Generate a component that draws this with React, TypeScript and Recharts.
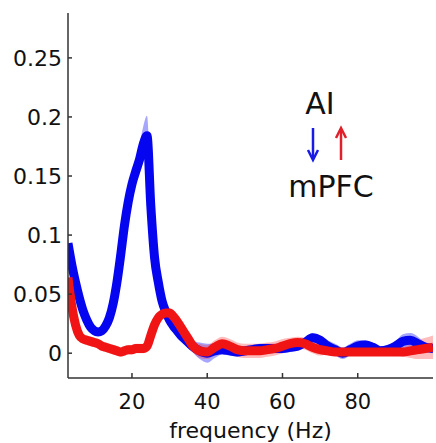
import { ComposedChart, Line, Area, XAxis, YAxis } from 'recharts';

// frequency grid (Hz)
const freqs = [3, 4, 5, 6, 7, 8, 9, 10, 11, 12, 13, 14, 15, 16, 17, 18, 19, 20, 21, 22, 23, 24, 25, 26, 27, 28, 29, 30, 31, 32, 33, 34, 35, 36, 38, 40, 42, 44, 46, 48, 50, 52, 54, 56, 58, 60, 62, 64, 66, 68, 70, 72, 74, 76, 78, 80, 82, 84, 86, 88, 90, 92, 94, 96, 98, 100];

// blue series
const blueMean = [0.093, 0.075, 0.06, 0.047, 0.036, 0.028, 0.022, 0.019, 0.018, 0.019, 0.023, 0.03, 0.042, 0.06, 0.083, 0.108, 0.128, 0.143, 0.154, 0.164, 0.177, 0.184, 0.125, 0.081, 0.06, 0.044, 0.035, 0.028, 0.023, 0.019, 0.015, 0.012, 0.009, 0.006, 0.002, 0.0, 0.002, 0.003, 0.002, 0.001, 0.002, 0.003, 0.004, 0.004, 0.004, 0.004, 0.005, 0.006, 0.009, 0.013, 0.011, 0.006, 0.003, 0.0, 0.003, 0.006, 0.007, 0.005, 0.002, 0.003, 0.006, 0.01, 0.011, 0.008, 0.005, 0.004];
const blueErr = [0.004, 0.004, 0.004, 0.004, 0.004, 0.004, 0.004, 0.004, 0.003, 0.003, 0.003, 0.003, 0.005, 0.005, 0.005, 0.005, 0.005, 0.008, 0.01, 0.013, 0.015, 0.017, 0.01, 0.005, 0.005, 0.005, 0.005, 0.005, 0.005, 0.005, 0.005, 0.005, 0.005, 0.005, 0.007, 0.008, 0.006, 0.004, 0.004, 0.004, 0.004, 0.004, 0.004, 0.004, 0.004, 0.004, 0.004, 0.004, 0.004, 0.004, 0.004, 0.005, 0.005, 0.005, 0.005, 0.005, 0.004, 0.004, 0.004, 0.004, 0.004, 0.006, 0.006, 0.006, 0.004, 0.004];

// red series
const redMean = [0.064, 0.04, 0.024, 0.015, 0.012, 0.011, 0.01, 0.009, 0.008, 0.006, 0.005, 0.004, 0.003, 0.002, 0.001, 0.002, 0.003, 0.003, 0.004, 0.004, 0.004, 0.006, 0.015, 0.024, 0.03, 0.033, 0.034, 0.034, 0.031, 0.027, 0.022, 0.017, 0.012, 0.007, 0.002, 0.001, 0.005, 0.008, 0.006, 0.003, 0.002, 0.002, 0.002, 0.003, 0.004, 0.006, 0.008, 0.009, 0.008, 0.005, 0.003, 0.002, 0.001, 0.001, 0.001, 0.001, 0.001, 0.001, 0.001, 0.001, 0.001, 0.001, 0.002, 0.003, 0.004, 0.005];
const redErr = [0.003, 0.003, 0.003, 0.003, 0.004, 0.004, 0.004, 0.004, 0.004, 0.004, 0.004, 0.004, 0.004, 0.004, 0.004, 0.004, 0.004, 0.004, 0.004, 0.004, 0.004, 0.004, 0.004, 0.004, 0.004, 0.004, 0.004, 0.004, 0.004, 0.004, 0.004, 0.004, 0.004, 0.004, 0.006, 0.006, 0.006, 0.006, 0.006, 0.006, 0.006, 0.006, 0.006, 0.006, 0.006, 0.006, 0.005, 0.005, 0.005, 0.005, 0.005, 0.003, 0.003, 0.003, 0.003, 0.003, 0.003, 0.003, 0.003, 0.003, 0.003, 0.004, 0.006, 0.008, 0.009, 0.01];

const xTicks = [20, 40, 60, 80];
const yTicks = [0, 0.05, 0.1, 0.15, 0.2, 0.25];

const chartData = freqs.map((f, i) => ({
  f,
  blue: blueMean[i],
  blueBand: [blueMean[i] - blueErr[i], blueMean[i] + blueErr[i]],
  red: redMean[i],
  redBand: [redMean[i] - redErr[i], redMean[i] + redErr[i]],
}));

const tickFont = '"DejaVu Sans", sans-serif';

const YTick = (props: any) => {
  const { x, y, payload } = props;
  return (
    <g>
      <line x1={x + 8} x2={x + 12} y1={y} y2={y} stroke="#333" strokeWidth={1.5} />
      <text x={x + 2} y={y + 8} textAnchor="end" fontSize={22} fontFamily={tickFont} fill="#111">
        {String(payload.value)}
      </text>
    </g>
  );
};

const XTick = (props: any) => {
  const { x, y, payload } = props;
  return (
    <g>
      <line x1={x} x2={x} y1={y} y2={y - 5} stroke="#333" strokeWidth={1.5} />
      <text x={x} y={y + 31} textAnchor="middle" fontSize={21} fontFamily={tickFont} fill="#111">
        {String(payload.value)}
      </text>
    </g>
  );
};

const XLabel = (props: any) => {
  const vb = props.viewBox;
  return (
    <text x={vb.x + vb.width / 2} y={438} textAnchor="middle" fontSize={22} fontFamily={tickFont} fill="#111">
      frequency (Hz)
    </text>
  );
};

const App = () => {
  return (
    <div style={styles.wrap}>
      <ComposedChart width={436} height={443} data={chartData} margin={{ top: 13, right: 3, bottom: 0, left: 0 }}>
        <XAxis
          dataKey="f"
          type="number"
          domain={[3, 100]}
          ticks={xTicks}
          tick={<XTick />}
          tickSize={0}
          tickMargin={0}
          height={65}
          stroke="#333"
          strokeWidth={1.5}
          allowDataOverflow
          label={<XLabel />}
        />
        <YAxis
          type="number"
          domain={[-0.021, 0.288]}
          ticks={yTicks}
          tick={<YTick />}
          tickSize={0}
          tickMargin={8}
          width={68}
          stroke="#333"
          strokeWidth={1.5}
          allowDataOverflow
        />
        <Area type="monotone" dataKey="blueBand" stroke="none" fill="#2020ff" fillOpacity={0.4} isAnimationActive={false} />
        <Area type="monotone" dataKey="redBand" stroke="none" fill="#ff2020" fillOpacity={0.3} isAnimationActive={false} />
        <Line type="monotone" dataKey="blue" stroke="#0505f0" strokeWidth={9} dot={false} isAnimationActive={false} />
        <Line type="monotone" dataKey="red" stroke="#f01414" strokeWidth={9} dot={false} isAnimationActive={false} />
      </ComposedChart>
      <svg style={styles.overlay} width={436} height={443}>
        <text x={320} y={114} textAnchor="middle" fontSize={30} fontFamily={tickFont} fill="#111">AI</text>
        <g stroke="#1a1ae6" strokeWidth={2.5} fill="none">
          <line x1={313} y1={128} x2={313} y2={159} />
          <polyline points="308,150 313,160 318,150" />
        </g>
        <g stroke="#e0202a" strokeWidth={2.5} fill="none">
          <line x1={341} y1={129} x2={341} y2={160} />
          <polyline points="336,138 341,128 346,138" />
        </g>
        <text x={331} y={197} textAnchor="middle" fontSize={30} fontFamily={tickFont} fill="#111">mPFC</text>
      </svg>
    </div>
  );
};

const styles: any = {
  wrap: { position: 'absolute', left: 0, top: 0, width: 436, height: 443, background: '#fff' },
  overlay: { position: 'absolute', left: 0, top: 0, pointerEvents: 'none' },
};

export default App;
